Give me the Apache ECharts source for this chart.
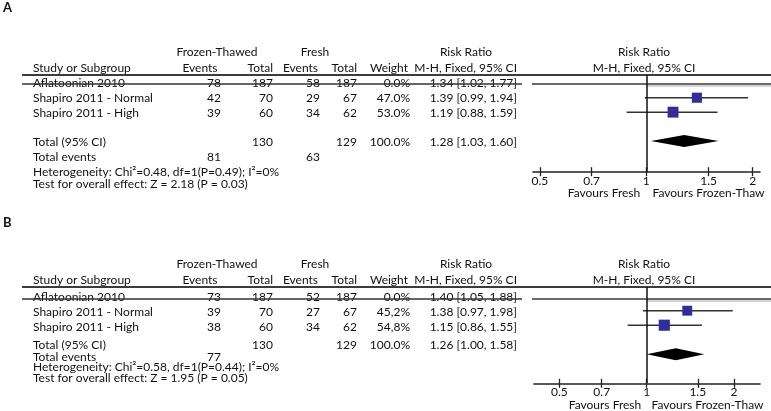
<!DOCTYPE html>
<html><head><meta charset="utf-8">
<script src="https://cdn.jsdelivr.net/npm/echarts@6/dist/echarts.min.js"></script>
<style>html,body{margin:0;padding:0;background:#fff}#c{width:771px;height:411px}</style>
</head><body><div id="c"></div>
<script>
// ---------- DATA ----------
const studies = ['Aflatoonian 2010', 'Shapiro 2011 - Normal', 'Shapiro 2011 - High'];
const tickValues = [0.5, 0.7, 1, 1.5, 2];

// Panel A
const ftEventsA = [78, 42, 39];
const ftTotalA = [187, 70, 60];
const frEventsA = [58, 29, 34];
const frTotalA = [187, 67, 62];
const weightA = [0.0, 47.0, 53.0];
const rrA = [1.34, 1.39, 1.19];
const loA = [1.02, 0.99, 0.88];
const hiA = [1.77, 1.94, 1.59];
const summaryA = [1.28, 1.03, 1.60];       // RR, lower, upper
const totalsA = [130, 129, 100.0];         // FT total, Fresh total, weight
const totalEventsA = [81, 63];
const statsA = ['Heterogeneity: Chi\u00b2=0.48, df=1(P=0.49); I\u00b2=0%', 'Test for overall effect: Z = 2.18 (P = 0.03)'];

// Panel B
const ftEventsB = [73, 39, 38];
const ftTotalB = [187, 70, 60];
const frEventsB = [52, 27, 34];
const frTotalB = [187, 67, 62];
const weightB = [0.0, 45.2, 54.8];
const rrB = [1.40, 1.38, 1.15];
const loB = [1.05, 0.97, 0.86];
const hiB = [1.88, 1.98, 1.55];
const summaryB = [1.26, 1.00, 1.58];
const totalsB = [130, 129, 100.0];
const totalEventsB = [77, null];
const statsB = ['Heterogeneity: Chi\u00b2=0.58, df=1(P=0.44); I\u00b2=0%', 'Test for overall effect: Z = 1.95 (P = 0.05)'];

// ---------- LAYOUT ----------
const FONT = 'Lato';
const FS = 12;
const panels = [
  { name: 'A', labelY: 8, h1: 52, h2: 68, lineY: 75, strikeY: 84, rowY: [83.5, 98, 113], totY: 142.3, evY: 157.3, hetY: 171.7, testY: 184.3,
    gridLeft: 533, gridTop: 75, gridH: 96.7, xmin: 0.478, xmax: 2.097, ymin: -0.571, ymax: 6.121, favY: 193.3, favL: 604, favR: 708.5, wsep: ['.', '.', '.'],
    d: { ftE: ftEventsA, ftT: ftTotalA, frE: frEventsA, frT: frTotalA, w: weightA, rr: rrA, lo: loA, hi: hiA, sum: summaryA, tot: totalsA, ev: totalEventsA, stats: statsA } },
  { name: 'B', labelY: 223, h1: 264.3, h2: 280, lineY: 287, strikeY: 299, rowY: [297, 311.7, 326.7], totY: 345, evY: 356.7, hetY: 367.3, testY: 378.3,
    gridLeft: 534, gridTop: 287, gridH: 96.3, xmin: 0.409, xmax: 2.458, ymin: -0.634, ymax: 6.007, favY: 405, favL: 605, favR: 707.5, wsep: ['.', ',', ','],
    d: { ftE: ftEventsB, ftT: ftTotalB, frE: frEventsB, frT: frTotalB, w: weightB, rr: rrB, lo: loB, hi: hiB, sum: summaryB, tot: totalsB, ev: totalEventsB, stats: statsB } }
];
const col = { study: 33, ftE: 221, ftT: 273, frE: 320, frT: 357, w: 410, rr: 517 };

function txt(text, x, y, align, size, weight) {
  return { type: 'text', silent: true, x: x, y: y, style: { text: String(text), align: align || 'left',
    verticalAlign: 'middle', fontSize: size || FS, fontFamily: FONT, fontWeight: weight || 'normal', fill: '#111' } };
}
function hline(x1, x2, y, color, w) {
  return { type: 'line', silent: true, shape: { x1: x1, y1: y, x2: x2, y2: y }, style: { stroke: color, lineWidth: w } };
}
function fmtW(v, sep) { return v.toFixed(1).replace('.', sep) + '%'; }
function fmtRR(r, l, h) { return r.toFixed(2) + ' [' + l.toFixed(2) + ', ' + h.toFixed(2) + ']'; }

const graphics = [];
const grids = [], xAxes = [], yAxes = [], series = [];

panels.forEach(function (p, i) {
  const d = p.d;
  graphics.push(txt(p.name, 3, p.labelY, 'left', 13, 'bold'));
  // headers
  graphics.push(txt('Frozen-Thawed', 217, p.h1, 'center'));
  graphics.push(txt('Fresh', 315, p.h1, 'center'));
  graphics.push(txt('Risk Ratio', 466, p.h1, 'center'));
  graphics.push(txt('Risk Ratio', 644, p.h1, 'center'));
  graphics.push(txt('Study or Subgroup', col.study, p.h2, 'left'));
  graphics.push(txt('Events', 200, p.h2, 'center'));
  graphics.push(txt('Total', col.ftT, p.h2, 'right'));
  graphics.push(txt('Events', 318, p.h2, 'right'));
  graphics.push(txt('Total', col.frT, p.h2, 'right'));
  graphics.push(txt('Weight', 408, p.h2, 'right'));
  graphics.push(txt('M-H, Fixed, 95% CI', col.rr, p.h2, 'right'));
  graphics.push(txt('M-H, Fixed, 95% CI', 644, p.h2, 'center'));
  graphics.push(hline(22, 771, p.lineY, '#3c3c3c', 1.8));
  // study rows
  studies.forEach(function (s, k) {
    const y = p.rowY[k];
    graphics.push(txt(s, col.study, y, 'left'));
    graphics.push(txt(d.ftE[k], col.ftE, y, 'right'));
    graphics.push(txt(d.ftT[k], col.ftT, y, 'right'));
    graphics.push(txt(d.frE[k], col.frE, y, 'right'));
    graphics.push(txt(d.frT[k], col.frT, y, 'right'));
    graphics.push(txt(fmtW(d.w[k], p.wsep[k]), col.w, y, 'right'));
    graphics.push(txt(fmtRR(d.rr[k], d.lo[k], d.hi[k]), col.rr, y, 'right'));
  });
  // strike-through of the excluded study
  graphics.push(hline(22, 522, p.strikeY, '#333', 1.3));
  graphics.push(hline(532, 771, p.strikeY, '#6a6a6a', 2));
  graphics.push(hline(646, 771, p.strikeY + 2, '#d4d4d4', 2));
  // totals
  graphics.push(txt('Total (95% CI)', col.study, p.totY, 'left'));
  graphics.push(txt(d.tot[0], col.ftT, p.totY, 'right'));
  graphics.push(txt(d.tot[1], col.frT, p.totY, 'right'));
  graphics.push(txt(fmtW(d.tot[2], '.'), col.w, p.totY, 'right'));
  graphics.push(txt(fmtRR(d.sum[0], d.sum[1], d.sum[2]), col.rr, p.totY, 'right'));
  graphics.push(txt('Total events', col.study, p.evY, 'left'));
  if (d.ev[0] != null) graphics.push(txt(d.ev[0], col.ftE, p.evY, 'right'));
  if (d.ev[1] != null) graphics.push(txt(d.ev[1], col.frE, p.evY, 'right'));
  graphics.push(txt(d.stats[0], col.study, p.hetY, 'left'));
  graphics.push(txt(d.stats[1], col.study, p.testY, 'left'));
  graphics.push(txt('Favours Fresh', p.favL, p.favY, 'center'));
  graphics.push(txt('Favours Frozen-Thaw', p.favR, p.favY, 'center'));

  // plot grid
  grids.push({ left: p.gridLeft, right: 11, top: p.gridTop, height: p.gridH, containLabel: false });
  const axBase = { type: 'log', gridIndex: i, position: 'bottom', min: p.xmin, max: p.xmax, splitLine: { show: false } };
  xAxes.push(Object.assign({}, axBase, {
    axisLine: { onZero: false, lineStyle: { color: '#222', width: 1.6 } },
    axisTick: { customValues: tickValues, length: 4.5, lineStyle: { color: '#222', width: 1.3 } },
    axisLabel: { customValues: tickValues, margin: 3, fontSize: 12, fontFamily: FONT, color: '#111', formatter: function (v) { return String(+v.toFixed(2)); } }
  }));
  xAxes.push(Object.assign({}, axBase, {
    axisLine: { show: false, onZero: false },
    axisTick: { customValues: tickValues, inside: true, length: 4.5, lineStyle: { color: '#222', width: 1.3 } },
    axisLabel: { show: false }
  }));
  yAxes.push({ type: 'value', gridIndex: i, inverse: true, min: p.ymin, max: p.ymax, show: false });

  const ciData = [];
  studies.forEach(function (s, k) { if (d.w[k] > 0) ciData.push([d.lo[k], d.hi[k], k, d.rr[k], d.w[k]]); });
  series.push({
    type: 'custom', xAxisIndex: 2 * i, yAxisIndex: i, data: ciData, silent: true,
    encode: { x: [0, 1, 3], y: 2 },
    renderItem: function (params, api) {
      const y = api.value(2);
      const a = api.coord([api.value(0), y]);
      const b = api.coord([api.value(1), y]);
      const c = api.coord([api.value(3), y]);
      const s = 4 + 0.13 * api.value(4);
      return { type: 'group', children: [
        { type: 'line', shape: { x1: a[0], y1: a[1], x2: b[0], y2: b[1] }, style: { stroke: '#333', lineWidth: 1.5 } },
        { type: 'rect', shape: { x: c[0] - s / 2, y: c[1] - s / 2, width: s, height: s }, style: { fill: '#2d2d9c' } }
      ] };
    },
    markLine: { silent: true, symbol: ['none', 'none'], label: { show: false },
      lineStyle: { color: '#111', width: 1.5, type: 'solid' }, data: [{ xAxis: 1 }] }
  });
  series.push({
    type: 'custom', xAxisIndex: 2 * i, yAxisIndex: i, silent: true,
    data: [[d.sum[1], d.sum[0], d.sum[2], 4]],
    encode: { x: [0, 1, 2], y: 3 },
    renderItem: function (params, api) {
      const y = api.value(3);
      const l = api.coord([api.value(0), y]);
      const m = api.coord([api.value(1), y]);
      const r = api.coord([api.value(2), y]);
      const hh = 6;
      return { type: 'polygon', shape: { points: [[l[0], l[1]], [m[0], m[1] - hh], [r[0], r[1]], [m[0], m[1] + hh]] }, style: { fill: '#000' } };
    }
  });
});

const chart = echarts.init(document.getElementById('c'), null, { renderer: 'canvas' });
chart.setOption({
  animation: false,
  backgroundColor: '#fff',
  grid: grids, xAxis: xAxes, yAxis: yAxes, series: series,
  graphic: { elements: graphics }
});
</script></body></html>
